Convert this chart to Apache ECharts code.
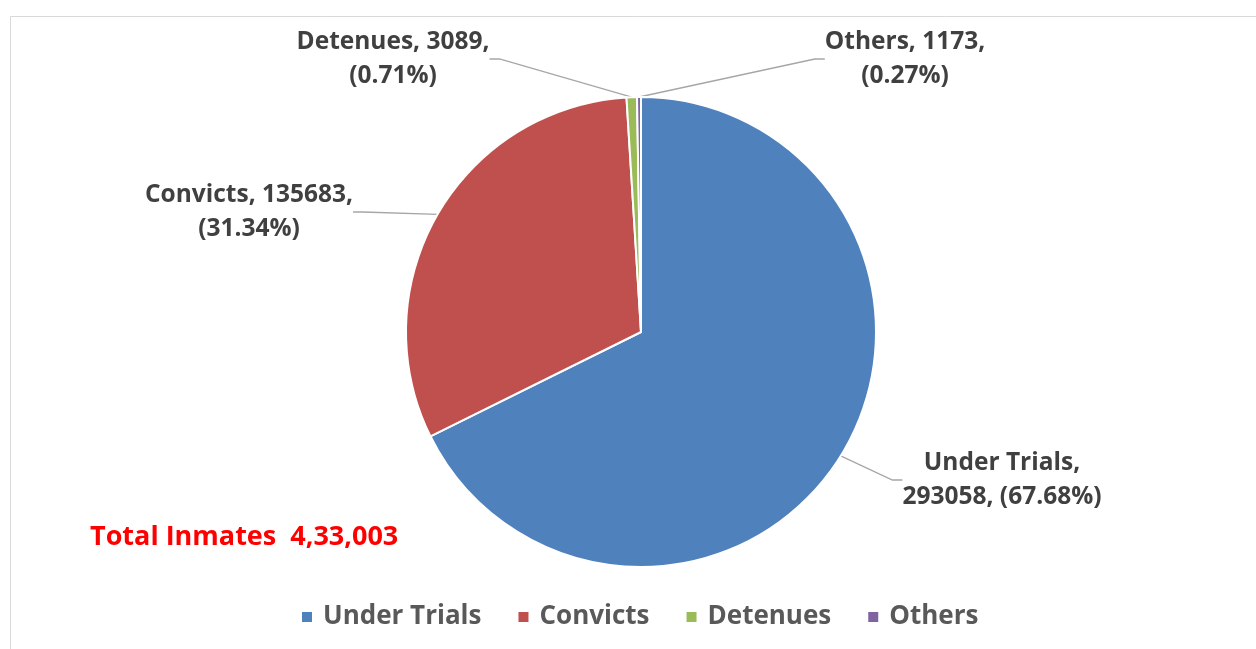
<!DOCTYPE html>
<html>
<head>
<meta charset="utf-8">
<script src="https://cdn.jsdelivr.net/npm/echarts@6/dist/echarts.min.js"></script>
<style>html,body{margin:0;padding:0;background:#fff;}#c{width:1256px;height:649px;}</style>
</head>
<body>
<div id="c"></div>
<script>
var categories = ['Under Trials', 'Convicts', 'Detenues', 'Others'];
var values = [293058, 135683, 3089, 1173];
var colors = ['#4F81BD', '#C0504D', '#9BBB59', '#8064A2'];
var totalText = 'Total Inmates  4,33,003';
var labelPos = [[1002, 480], [249, 212], [393, 59], [905, 59]];

var chart = echarts.init(document.getElementById('c'));
var FONT = '"Open Sans", sans-serif';
chart.setOption({
  animation: false,
  backgroundColor: '#fff',
  color: colors,
  graphic: [{
    type: 'rect', shape: {x: 10.5, y: 16.5, width: 1400, height: 800},
    style: {fill: 'none', stroke: '#d9d9d9', lineWidth: 1}, silent: true
  }],
  title: {
    text: totalText, left: 85, top: 519,
    textStyle: {color: '#FF0000', fontSize: 27, fontWeight: 'bold', fontFamily: FONT}
  },
  legend: {
    data: categories, left: 295, top: 599, icon: 'rect',
    itemWidth: 12, itemHeight: 12, itemGap: 35,
    textStyle: {color: '#595959', fontSize: 26, fontWeight: 'bold', fontFamily: FONT, padding: [0, 0, 0, 5]}
  },
  series: [{
    type: 'pie', center: [641, 332], radius: [0, 235], startAngle: 90, clockwise: true,
    data: categories.map(function (n, i) { return {name: n, value: values[i]}; }),
    itemStyle: {borderColor: '#fff', borderWidth: 2},
    label: {
      show: true, color: '#404040', fontSize: 24.5, fontWeight: 'bold', fontFamily: FONT,
      lineHeight: 34, align: 'center',
      formatter: function (p) {
        if (p.dataIndex === 0) return p.name + ',\n' + p.value + ', (' + p.percent.toFixed(2) + '%)';
        return p.name + ', ' + p.value + ',\n(' + p.percent.toFixed(2) + '%)';
      }
    },
    labelLine: {show: true, lineStyle: {color: '#a6a6a6', width: 1.3}, length: 20, length2: 10},
    labelLayout: function (p) {
      var pos = labelPos[p.dataIndex];
      return {x: pos[0], y: pos[1], align: 'center', verticalAlign: 'middle'};
    }
  }]
});
</script>
</body>
</html>
